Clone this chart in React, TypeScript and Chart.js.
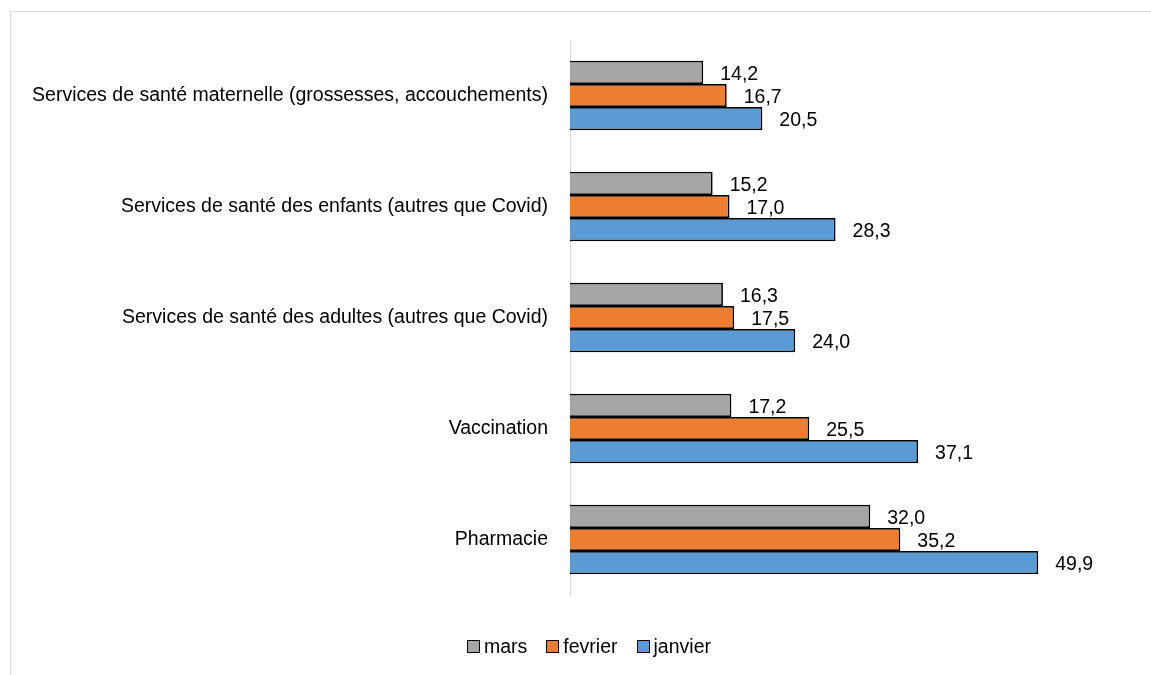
import React, { useEffect, useRef } from "react";
import { Chart, registerables } from "chart.js";

Chart.register(...registerables);

const categories = [
  "Services de santé maternelle (grossesses, accouchements)",
  "Services de santé des enfants (autres que Covid)",
  "Services de santé des adultes (autres que Covid)",
  "Vaccination",
  "Pharmacie",
];
const seriesNames = ["mars", "fevrier", "janvier"];
const marsValues = [14.2, 15.2, 16.3, 17.2, 32.0];
const fevrierValues = [16.7, 17.0, 17.5, 25.5, 35.2];
const janvierValues = [20.5, 28.3, 24.0, 37.1, 49.9];
const seriesColors = ["#A5A5A5", "#ED7D31", "#5B9BD5"];

const FONT = "'Liberation Sans', Arial, sans-serif";
const FONT_SIZE = 19.5;

const fmt = (v: number) => v.toFixed(1).replace(".", ",");

const labelPlugin = {
  id: "barValueLabels",
  afterDatasetsDraw(chart: any) {
    const ctx = chart.ctx;
    ctx.save();
    ctx.font = `${FONT_SIZE}px ${FONT}`;
    ctx.fillStyle = "#000";
    ctx.textAlign = "left";
    ctx.textBaseline = "middle";
    chart.data.datasets.forEach((ds: any, di: number) => {
      const meta = chart.getDatasetMeta(di);
      meta.data.forEach((bar: any, i: number) => {
        ctx.fillText(fmt(ds.data[i]), bar.x + 17, bar.y + 2);
      });
    });
    ctx.restore();
  },
};

export default function App() {
  const canvasRef = useRef<HTMLCanvasElement>(null);

  useEffect(() => {
    if (!canvasRef.current) return;
    const seriesData = [marsValues, fevrierValues, janvierValues];
    const chart = new Chart(canvasRef.current, {
      type: "bar",
      data: {
        labels: categories,
        datasets: seriesNames.map((name, i) => ({
          label: name,
          data: seriesData[i],
          backgroundColor: seriesColors[i],
          borderColor: "#000",
          borderWidth: 1.75,
          barPercentage: 1,
          categoryPercentage: 0.625,
        })),
      },
      options: {
        indexAxis: "y",
        responsive: false,
        animation: false,
        layout: { padding: { top: 40, bottom: 80, left: 10, right: 18 } },
        plugins: {
          legend: { display: false },
          tooltip: { enabled: false },
        },
        scales: {
          x: { display: false, min: 0, max: 60 },
          y: {
            grid: { display: false, drawTicks: false },
            border: { display: true, color: "#d9d9d9", width: 1 },
            ticks: {
              color: "#000",
              padding: 22,
              font: { family: FONT, size: FONT_SIZE },
            },
            afterFit: (scale: any) => {
              scale.width = 560;
            },
          },
        },
      },
      plugins: [labelPlugin],
    } as any);
    return () => chart.destroy();
  }, []);

  return (
    <div
      style={{
        position: "fixed",
        left: 0,
        top: 0,
        width: 1151,
        height: 675,
        overflow: "hidden",
        background: "#fff",
      }}
    >
      <div
        style={{
          position: "absolute",
          left: 10,
          top: 11,
          width: 1300,
          height: 800,
          borderTop: "1px solid #d9d9d9",
          borderLeft: "1px solid #d9d9d9",
        }}
      />
      <canvas
        ref={canvasRef}
        width={1151}
        height={675}
        style={{ position: "absolute", left: 0, top: 0, width: 1151, height: 675 }}
      />
      <div
        style={{
          position: "absolute",
          left: 467,
          top: 635,
          display: "flex",
          alignItems: "center",
          fontFamily: FONT,
          fontSize: FONT_SIZE,
          color: "#000",
          lineHeight: "22px",
        }}
      >
        {seriesNames.map((name, i) => (
          <div
            key={name}
            style={{ display: "flex", alignItems: "center", marginRight: i < seriesNames.length - 1 ? 19 : 0 }}
          >
            <span
              style={{
                display: "inline-block",
                width: 11,
                height: 11,
                background: seriesColors[i],
                border: "1.5px solid #000",
                marginRight: 4,
              }}
            />
            <span>{name}</span>
          </div>
        ))}
      </div>
    </div>
  );
}
